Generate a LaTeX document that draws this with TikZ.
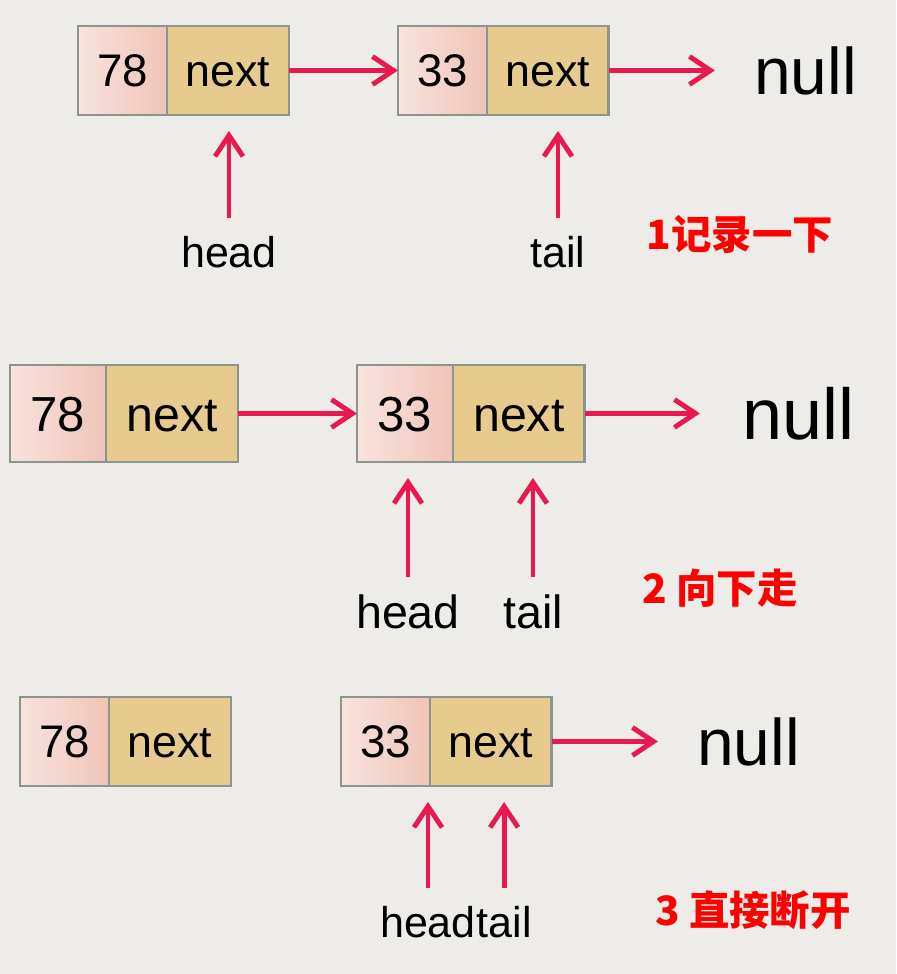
\documentclass[tikz,border=0pt]{standalone}
\usepackage{fontspec}
\setmainfont{Liberation Sans}
\newfontfamily\cjk{Noto Sans CJK SC}
\usetikzlibrary{positioning, arrows.meta}
\definecolor{PtrRed}{HTML}{E8194F}
\definecolor{CellEdge}{HTML}{8C9490}
\definecolor{ValLeft}{HTML}{F8E3DE}
\definecolor{ValRight}{HTML}{EFC4B7}
\definecolor{NextTan}{HTML}{E6CA8E}
\definecolor{Paper}{HTML}{EDECE9}

\begin{document}
\begin{tikzpicture}[x=0.02cm, y=-0.02cm,
        % list cells
        cell/.style     = {rectangle, draw=CellEdge, line width=1.6pt, outer sep=0pt, inner sep=0pt,
                           text height=18.5pt, text depth=0pt},
        val/.style      = {cell, left color=ValLeft, right color=ValRight, minimum width=1.78cm,
                           minimum height=1.78cm, font=\fontsize{26}{31}\selectfont},
        nxtcell/.style  = {cell, fill=NextTan, minimum width=2.44cm, minimum height=1.78cm,
                           font=\fontsize{25.5}{30}\selectfont},
        % middle row is drawn a bit larger
        bigval/.style   = {val, minimum width=1.92cm, minimum height=1.94cm,
                           font=\fontsize{28}{33}\selectfont, text height=20pt},
        bignxt/.style   = {nxtcell, minimum width=2.64cm, minimum height=1.94cm,
                           font=\fontsize{27.5}{32}\selectfont, text height=20pt},
        nullnode/.style = {inner ysep=0pt, inner xsep=0.78cm, font=\fontsize{37.5}{44}\selectfont},
        bignull/.style  = {nullnode, inner xsep=0.84cm, font=\fontsize{41}{48}\selectfont},
        ptrlabel/.style = {inner sep=0pt, font=\fontsize{24.5}{29}\selectfont},
        note/.style     = {inner sep=0pt, text=red, font=\cjk\bfseries\fontsize{23}{28}\selectfont},
        link/.style     = {draw=PtrRed, line width=2.8pt, -{Straight Barb[length=0.42cm, width=0.56cm]}},
        ptr/.style      = {link, shorten <=0.36cm, shorten >=0.32cm}
    ]

    \fill[Paper] (0,0) rectangle (896,974);

    % --- Step 1 ---
    \node[val, anchor=north west] (v1a) at (78,26) {78};
    \node[nxtcell, right=0pt of v1a] (n1a) {next};
    \node[val, right=2.18cm of n1a] (v1b) {33};
    \node[nxtcell, right=0pt of v1b] (n1b) {next};
    \node[nullnode, right=2.12cm of n1b] (null1) {null};

    \node[ptrlabel] (head1) at (229,252) {head};
    \node[ptrlabel] (tail1) at (558,252) {tail};
    \node[note] (step1) at (740,234) {1记录一下};

    % --- Step 2 ---
    \node[bigval, anchor=north west] (v2a) at (10,365) {78};
    \node[bignxt, right=0pt of v2a] (n2a) {next};
    \node[bigval, right=2.38cm of n2a] (v2b) {33};
    \node[bignxt, right=0pt of v2b] (n2b) {next};
    \node[bignull, right=2.3cm of n2b] (null2) {null};

    \node[ptrlabel, font=\fontsize{26.5}{31}\selectfont] (head2) at (408,612) {head};
    \node[ptrlabel, font=\fontsize{26.5}{31}\selectfont] (tail2) at (533,612) {tail};
    \node[note] (step2) at (720,588) {2 向下走};

    % --- Step 3 ---
    \node[val, anchor=north west] (v3a) at (20,697) {78};
    \node[nxtcell, right=0pt of v3a] (n3a) {next};
    \node[val, right=2.2cm of n3a] (v3b) {33};
    \node[nxtcell, right=0pt of v3b] (n3b) {next};
    \node[nullnode, right=2.12cm of n3b] (null3) {null};

    \node[ptrlabel] (head3) at (428,922) {head};
    \node[ptrlabel, right=0pt of head3] (tail3) {tail};
    \node[note] (step3) at (753,910) {3 直接断开};

    % Arrows
    \draw[link] (n1a) -- (v1b);
    \draw[link] (n1b) -- (null1);
    \draw[ptr] (head1.north) -- (head1 |- n1a.south);
    \draw[ptr] (tail1.north) -- (tail1 |- n1b.south);

    \draw[link] (n2a) -- (v2b);
    \draw[link] (n2b) -- (null2);
    \draw[ptr] (head2.north) -- (head2 |- v2b.south);
    \draw[ptr] (tail2.north) -- (tail2 |- n2b.south);

    \draw[link] (n3b) -- (null3);
    \draw[ptr] (head3.north) -- (head3 |- n3b.south);
    \draw[ptr] (tail3.north) -- (tail3 |- n3b.south);

\end{tikzpicture}
\end{document}
